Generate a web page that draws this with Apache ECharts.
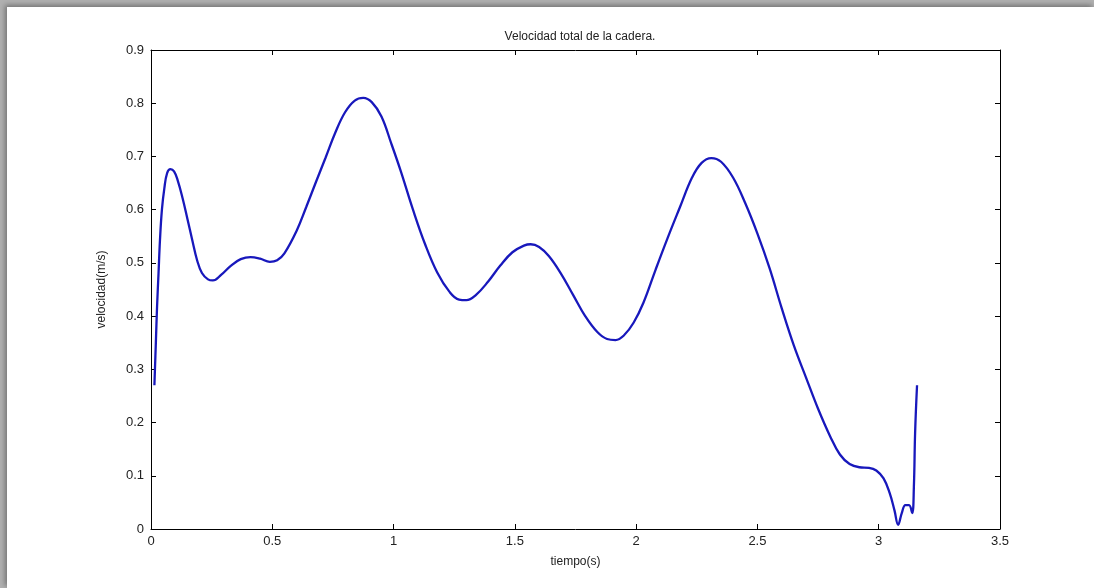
<!DOCTYPE html>
<html>
<head>
<meta charset="utf-8">
<script src="https://cdn.jsdelivr.net/npm/echarts@6/dist/echarts.min.js"></script>
<style>
  html, body { margin: 0; padding: 0; width: 1094px; height: 588px; overflow: hidden; background: #b0b0b0; }
  #paper { position: absolute; left: 7px; top: 7px; width: 1087px; height: 581px; background: #ffffff;
           box-shadow: -2px -2px 5px rgba(0,0,0,0.35); }
  #chart { position: absolute; left: 0; top: 0; width: 1094px; height: 588px; }
</style>
</head>
<body>
<div id="paper"></div>
<div id="chart"></div>
<script>
// Hip total velocity over time
const tiempo = [
  0.014, 0.020, 0.025, 0.031, 0.037, 0.045, 0.055, 0.066, 0.080, 0.095,
  0.110, 0.130, 0.150, 0.170, 0.190, 0.210, 0.235, 0.255, 0.290, 0.330,
  0.370, 0.410, 0.450, 0.490, 0.520, 0.550, 0.600, 0.640, 0.680, 0.720,
  0.760, 0.800, 0.840, 0.875, 0.910, 0.950, 0.990, 1.030, 1.080, 1.130,
  1.180, 1.230, 1.270, 1.300, 1.340, 1.390, 1.440, 1.490, 1.540, 1.565,
  1.600, 1.640, 1.690, 1.740, 1.790, 1.840, 1.880, 1.915, 1.950, 1.990,
  2.030, 2.080, 2.130, 2.180, 2.230, 2.270, 2.310, 2.350, 2.400, 2.450,
  2.500, 2.550, 2.600, 2.650, 2.700, 2.750, 2.800, 2.840, 2.880, 2.920,
  2.960, 2.990, 3.020, 3.045, 3.065, 3.080, 3.095, 3.110, 3.125, 3.138,
  3.145, 3.150, 3.158
];
const velocidad = [
  0.270, 0.350, 0.418, 0.480, 0.543, 0.600, 0.640, 0.668, 0.676, 0.672,
  0.655, 0.622, 0.583, 0.543, 0.505, 0.481, 0.469, 0.467, 0.478, 0.495,
  0.507, 0.511, 0.508, 0.502, 0.505, 0.518, 0.560, 0.605, 0.652, 0.698,
  0.745, 0.783, 0.805, 0.810, 0.802, 0.775, 0.725, 0.672, 0.600, 0.535,
  0.482, 0.446, 0.431, 0.430, 0.440, 0.465, 0.495, 0.520, 0.533, 0.535,
  0.530, 0.513, 0.480, 0.440, 0.400, 0.370, 0.357, 0.355, 0.364, 0.388,
  0.425, 0.487, 0.547, 0.604, 0.660, 0.688, 0.697, 0.690, 0.660, 0.612,
  0.555, 0.490, 0.415, 0.345, 0.285, 0.226, 0.174, 0.140, 0.122, 0.116,
  0.115, 0.110, 0.095, 0.068, 0.035, 0.008, 0.030, 0.045, 0.045, 0.030,
  0.080, 0.180, 0.270
];

const X_MIN = 0, X_MAX = 3.5, X_STEP = 0.5;
const Y_MIN = 0, Y_MAX = 0.9, Y_STEP = 0.1;

const points = tiempo.map((t, i) => [t, velocidad[i]]);

const FONT = 'Liberation Sans, Arial, sans-serif';
const axisStyle = { show: true, onZero: false, lineStyle: { color: '#000', width: 1 } };
const tickStyle = { show: true, inside: true, length: 5, lineStyle: { color: '#000', width: 1 } };

const chart = echarts.init(document.getElementById('chart'), null, { renderer: 'canvas' });
chart.setOption({
  backgroundColor: 'transparent',
  animation: false,
  title: {
    text: 'Velocidad total de la cadera.',
    left: 575, top: 26, textAlign: 'center',
    textStyle: { fontFamily: FONT, fontSize: 12, fontWeight: 'normal', color: '#222' }
  },
  grid: { left: 151, right: 94, top: 50, bottom: 59, containLabel: false },
  xAxis: [{
    type: 'value', min: X_MIN, max: X_MAX, interval: X_STEP, position: 'bottom',
    name: 'tiempo(s)', nameLocation: 'middle', nameGap: 27,
    nameTextStyle: { fontFamily: FONT, fontSize: 12, color: '#222' },
    axisLine: axisStyle, axisTick: tickStyle, splitLine: { show: false },
    axisLabel: { fontFamily: FONT, fontSize: 13, color: '#222', margin: 6 }
  }, {
    type: 'value', min: X_MIN, max: X_MAX, interval: X_STEP, position: 'top',
    axisLine: axisStyle, axisTick: tickStyle, splitLine: { show: false },
    axisLabel: { show: false }
  }],
  yAxis: [{
    type: 'value', min: Y_MIN, max: Y_MAX, interval: Y_STEP, position: 'left',
    name: 'velocidad(m/s)', nameLocation: 'middle', nameGap: 43, nameRotate: 90,
    nameTextStyle: { fontFamily: FONT, fontSize: 12, color: '#222' },
    axisLine: axisStyle, axisTick: tickStyle, splitLine: { show: false },
    axisLabel: { fontFamily: FONT, fontSize: 13, color: '#222', margin: 7,
                 formatter: v => (Math.round(v * 10) / 10).toString() }
  }, {
    type: 'value', min: Y_MIN, max: Y_MAX, interval: Y_STEP, position: 'right',
    axisLine: axisStyle, axisTick: tickStyle, splitLine: { show: false },
    axisLabel: { show: false }
  }],
  series: [{
    type: 'line',
    data: points,
    xAxisIndex: 0, yAxisIndex: 0,
    showSymbol: false,
    smooth: 0.4,
    lineStyle: { color: '#1818bc', width: 2.3 },
    clip: true
  }]
});
</script>
</body>
</html>
